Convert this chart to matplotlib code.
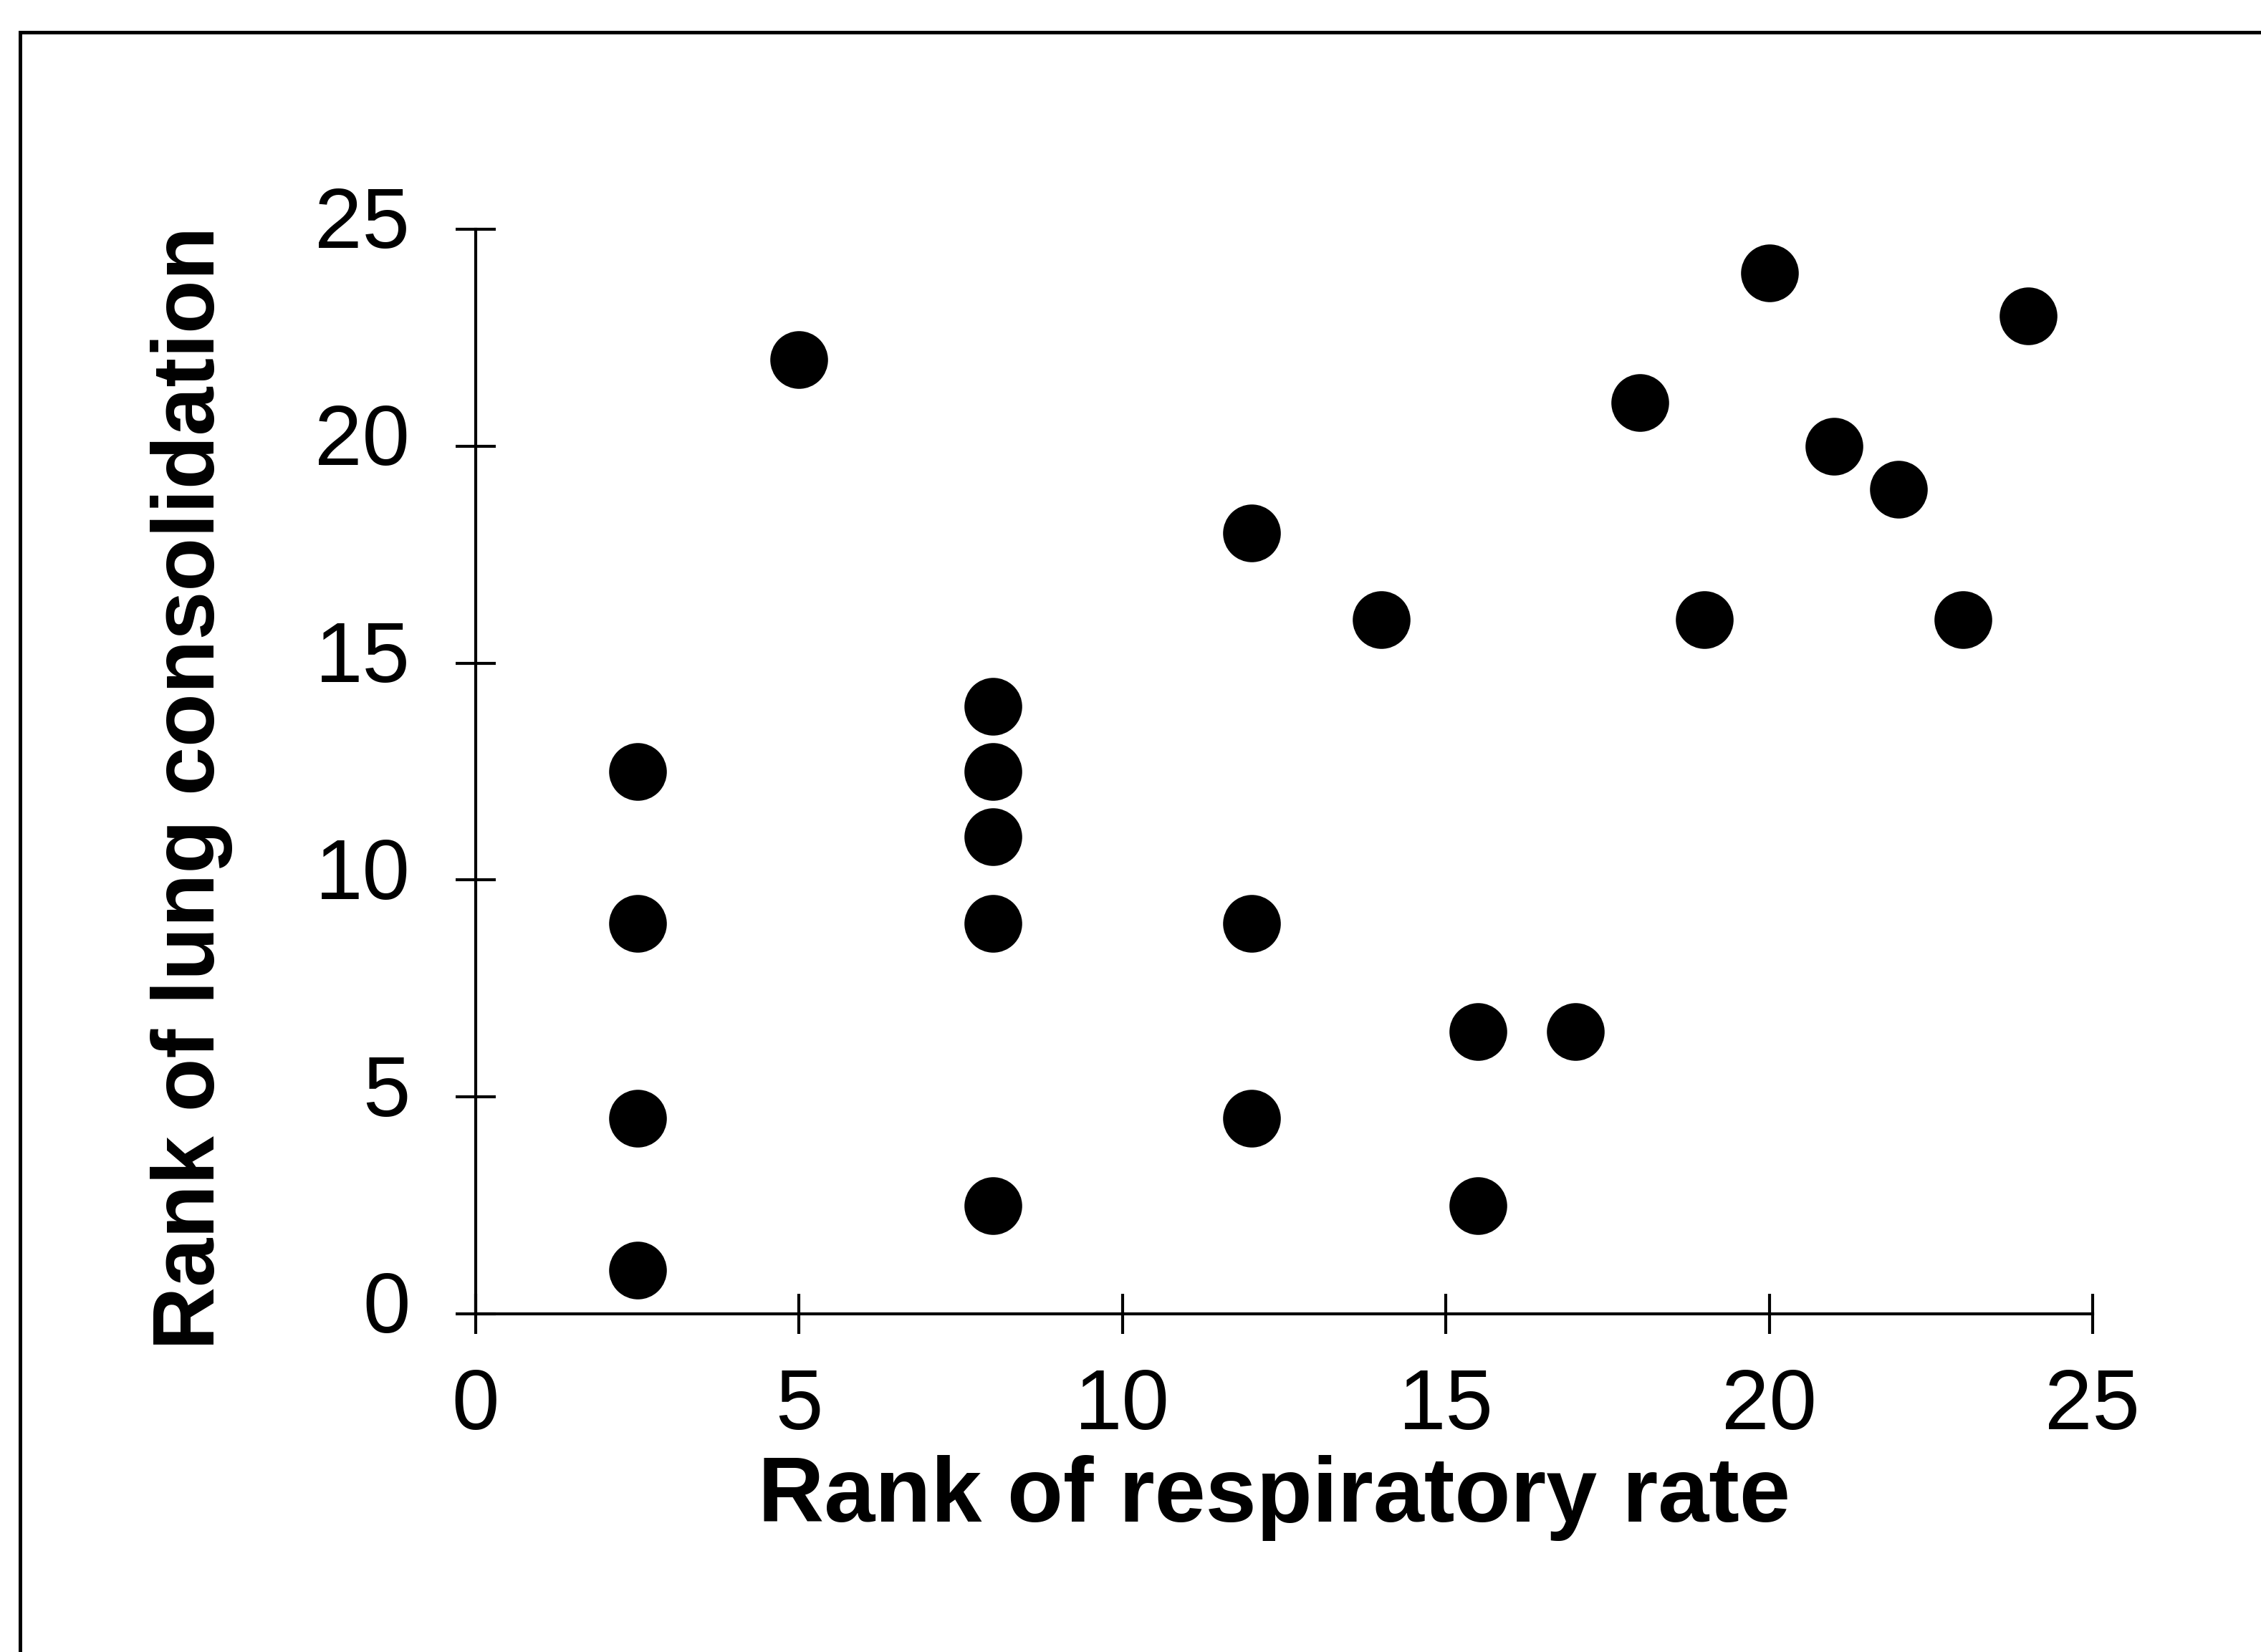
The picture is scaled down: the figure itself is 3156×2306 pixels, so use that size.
import matplotlib.pyplot as plt
import matplotlib.transforms as mtransforms
from matplotlib.lines import Line2D
from matplotlib import rcParams

rcParams['font.family'] = 'sans-serif'
rcParams['font.sans-serif'] = ['Liberation Sans', 'DejaVu Sans']

# Ranks
resp_rank = [2.5, 2.5, 2.5, 2.5, 5, 8, 8, 8, 8, 8, 12, 12, 12, 14,
             15.5, 15.5, 17, 18, 19, 20, 21, 22, 23, 24]
lung_rank = [1, 4.5, 9, 12.5, 22, 2.5, 9, 11, 12.5, 14, 4.5, 9, 18, 16,
             2.5, 6.5, 6.5, 21, 16, 24, 20, 19, 16, 23]

x_ticks = [0, 5, 10, 15, 20, 25]
y_ticks = [0, 5, 10, 15, 20, 25]

fig = plt.figure(figsize=(15.78, 11.53), dpi=200)
ax = fig.add_axes([0.2104, 0.2047, 0.7151, 0.6565])

ax.plot(resp_rank, lung_rank, linestyle='none', marker='o',
        markersize=28, color='black', clip_on=False)

ax.set_xlim(0, 25)
ax.set_ylim(0, 25)
ax.set_xticks(x_ticks)
ax.set_yticks(y_ticks)

for side in ['top', 'right']:
    ax.spines[side].set_visible(False)
for side in ['left', 'bottom']:
    ax.spines[side].set_linewidth(1.5)

ax.tick_params(axis='both', direction='inout', length=20, width=1.5,
               labelsize=43)
ax.tick_params(axis='x', pad=17)
ax.tick_params(axis='y', pad=23)

# y tick labels sit a little above their ticks in the original
shift = mtransforms.ScaledTranslation(0, 6 / 72, fig.dpi_scale_trans)
for lab in ax.get_yticklabels():
    lab.set_transform(lab.get_transform() + shift)

ax.set_xlabel("Rank of respiratory rate", fontsize=46, fontweight='bold')
ax.set_ylabel("Rank of lung consolidation", fontsize=44, fontweight='bold')
ax.xaxis.set_label_coords(0.4936, -0.130)
ax.yaxis.set_label_coords(-0.150, 0.485)

# frame lines on the left and top of the figure
fig.add_artist(Line2D([0.0089, 0.0089], [0.0, 0.9805], color='black',
                      linewidth=1.8, transform=fig.transFigure))
fig.add_artist(Line2D([0.0089, 1.0], [0.9805, 0.9805], color='black',
                      linewidth=1.8, transform=fig.transFigure))

fig.savefig('out.png', dpi=200, facecolor='white')
